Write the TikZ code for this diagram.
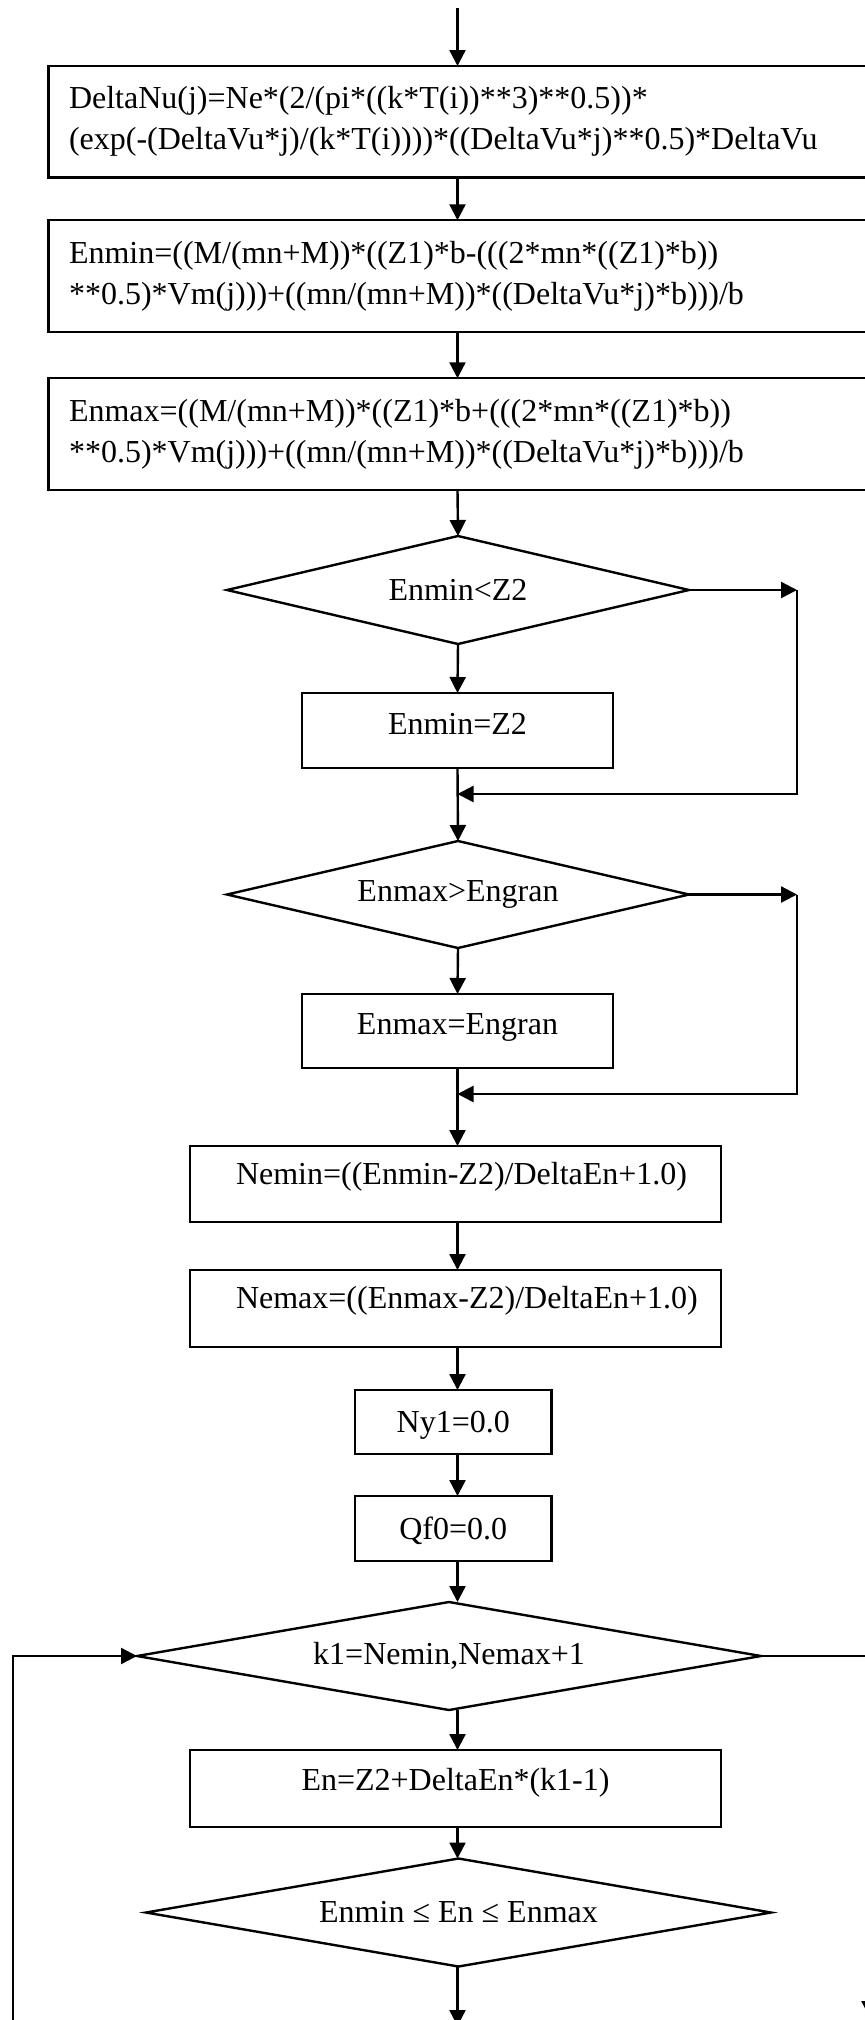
\documentclass[tikz,border=0pt]{standalone}
\usepackage{fontspec}
\setmainfont{Liberation Serif}
\usetikzlibrary{shapes.geometric,arrows.meta}
\begin{document}
\begin{tikzpicture}[x=0.5pt,y=-0.5pt,
  every node/.style={font=\fontsize{16pt}{20.5pt}\selectfont, outer sep=0pt},
  arr/.style={line width=1.2pt,-{Triangle[length=8pt,width=8pt]}},
  box/.style={draw,line width=1.2pt,rectangle,inner ysep=0pt},
  widebox/.style={box,align=left,text width=392.75pt,inner xsep=10.25pt,minimum height=55.75pt},
  rangebox/.style={box,align=left,text width=260pt,inner xsep=2.75pt},
  cond/.style={draw,line width=1.2pt,diamond,inner sep=0pt,aspect=5},
]
\useasboundingbox (0,0) rectangle (865,2020);
\clip (0,0) rectangle (865,2020);

% ---------- assignment blocks ----------
\node[widebox] (b1) at (461.75,121.75)
  {DeltaNu(j)=Ne*(2/(pi*((k*T(i))**3)**0.5))*\\{}(exp(-(DeltaVu*j)/(k*T(i))))*((DeltaVu*j)**0.5)*DeltaVu};
\node[widebox] (b2) at (461.75,276)
  {Enmin=((M/(mn+M))*((Z1)*b-(((2*mn*((Z1)*b))\\{}**0.5)*Vm(j)))+((mn/(mn+M))*((DeltaVu*j)*b)))/b};
\node[widebox] (b3) at (461.75,434)
  {Enmax=((M/(mn+M))*((Z1)*b+(((2*mn*((Z1)*b))\\{}**0.5)*Vm(j)))+((mn/(mn+M))*((DeltaVu*j)*b)))/b};

% ---------- clamping of Enmin / Enmax ----------
\node[cond,minimum width=231pt,minimum height=54pt] (d1) at (458,590) {Enmin<Z2};
\node[box,minimum width=155.5pt,minimum height=37.5pt,text depth=6.5pt] (s1) at (457.5,730.5) {Enmin=Z2};
\node[cond,minimum width=231pt,minimum height=53.5pt] (d2) at (458,894.5) {Enmax>Engran};
\node[box,minimum width=155.5pt,minimum height=37pt,text depth=7pt] (s2) at (457.5,1031) {Enmax=Engran};

% ---------- index range and counters ----------
\node[rangebox,minimum height=38pt,text depth=11pt] (n1) at (455.5,1184)
  {\hspace*{20.25pt}Nemin=((Enmin-Z2)/DeltaEn+1.0)};
\node[rangebox,minimum height=38.5pt,text depth=11.5pt] (n2) at (455.5,1308.5)
  {\hspace*{20.25pt}Nemax=((Enmax-Z2)/DeltaEn+1.0)};
\node[box,minimum width=98.25pt,minimum height=32pt,text depth=0pt] (ny) at (453.25,1422) {Ny1=0.0};
\node[box,minimum width=98.25pt,minimum height=32.5pt,text depth=0pt] (qf) at (453.25,1528.5) {Qf0=0.0};

% ---------- loop over k1 ----------
\node[cond,minimum width=312pt,minimum height=54pt] (d3) at (449,1656) {k1=Nemin,Nemax+1};
\node[box,minimum width=265.5pt,minimum height=38.5pt,text depth=9pt] (en) at (455.5,1788.5) {En=Z2+DeltaEn*(k1-1)};
\node[cond,minimum width=312.5pt,minimum height=54pt] (d4) at (458.5,1912.5) {Enmin ≤ En ≤ Enmax};

% ---------- helper points ----------
\coordinate (top) at (457.5,8);
\coordinate (r1) at (797,590);
\coordinate (j1) at (457.5,794);
\coordinate (r2) at (797,894.5);
\coordinate (j2) at (457.5,1094);
\coordinate (out) at (457.5,2026);
\coordinate (lb) at (13,2030);
\coordinate (rb) at (869.5,2017);

% ---------- main flow ----------
\draw[arr] (top) -- (top |- b1.north);
\draw[arr] (top |- b1.south) -- (top |- b2.north);
\draw[arr] (top |- b2.south) -- (top |- b3.north);
\draw[arr] (top |- b3.south) -- (d1.north);
\draw[arr] (d1.south) -- (top |- s1.north);
\draw[arr] (top |- s1.south) -- (d2.north);
\draw[arr] (d2.south) -- (top |- s2.north);
\draw[arr] (top |- s2.south) -- (top |- n1.north);
\draw[arr] (top |- n1.south) -- (top |- n2.north);
\draw[arr] (top |- n2.south) -- (top |- ny.north);
\draw[arr] (top |- ny.south) -- (top |- qf.north);
\draw[arr] (top |- qf.south) -- (top |- d3.north);
\draw[arr] (top |- d3.south) -- (top |- en.north);
\draw[arr] (top |- en.south) -- (top |- d4.north);
\draw[arr] (top |- d4.south) -- (out);

% ---------- bypass branches ----------
\draw[arr] (d1.east) -- (r1);
\draw[arr] (r1) |- (j1);
\draw[arr] (d2.east) -- (r2);
\draw[arr] (r2) |- (j2);

% ---------- loop return and exit ----------
\draw[arr] (lb) |- (d3.west);
\draw[arr] (d3.east) -| (rb);
\end{tikzpicture}
\end{document}
